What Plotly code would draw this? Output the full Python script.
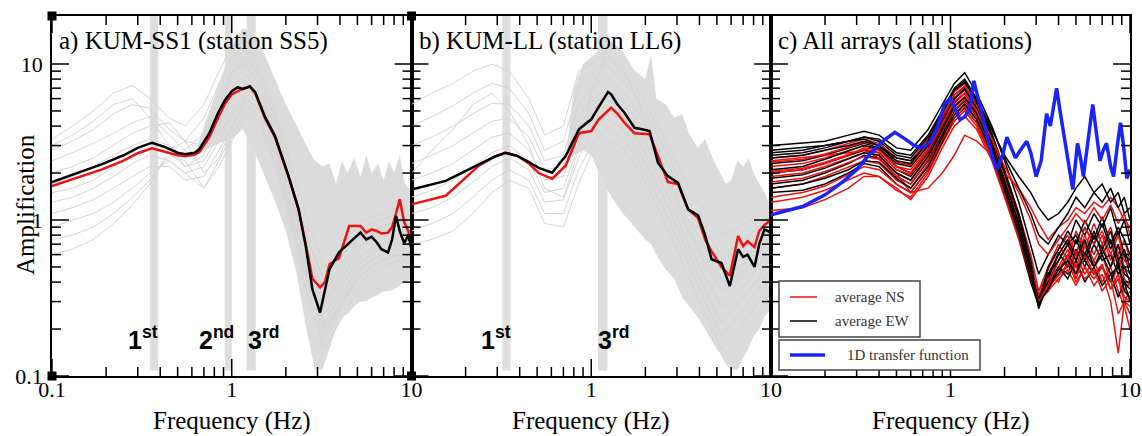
import math
import plotly.graph_objects as go

# ---------------- DATA ----------------
grid_ab = [0.1, 0.13, 0.17, 0.22, 0.28, 0.35, 0.45, 0.55, 0.7, 0.85, 1.0, 1.2, 1.45, 1.8, 2.2, 2.7, 3.3, 4.2, 5.3, 6.7, 8.5, 10]

gray_a = [
    [3.3, 4.0, 5.0, 6.5, 7.3, 6.0, 4.5, 4.0, 5.5, 9.0, 13, 14, 9, 4.5, 2.0, 0.9, 0.5, 0.7, 1.0, 1.1, 1.2, 1.0],
    [2.8, 3.2, 3.8, 4.8, 5.5, 5.2, 3.8, 3.2, 4.5, 7.5, 11, 12, 8, 4.0, 1.6, 0.7, 0.4, 0.6, 0.9, 1.0, 1.1, 0.9],
    [2.4, 2.7, 3.1, 3.6, 4.2, 4.6, 3.5, 2.8, 3.6, 6.0, 9, 10, 7, 3.5, 1.4, 0.6, 0.35, 0.55, 0.8, 0.9, 1.0, 0.8],
    [2.0, 2.2, 2.5, 3.0, 3.6, 4.0, 4.2, 3.2, 3.0, 4.5, 7, 8.5, 6.5, 3.2, 1.3, 0.55, 0.3, 0.5, 0.75, 0.85, 0.9, 0.75],
    [1.7, 1.9, 2.2, 2.6, 3.0, 3.3, 3.0, 2.5, 2.8, 4.0, 6.0, 7.5, 6.0, 3.0, 1.2, 0.5, 0.28, 0.45, 0.7, 0.8, 0.85, 0.7],
    [1.5, 1.6, 1.8, 2.2, 2.6, 2.9, 2.7, 2.2, 2.4, 3.5, 5.0, 6.5, 5.5, 2.8, 1.1, 0.45, 0.25, 0.4, 0.6, 0.7, 0.8, 0.65],
    [1.3, 1.4, 1.6, 1.9, 2.3, 2.6, 2.4, 2.0, 2.2, 3.2, 4.6, 6.0, 5.0, 2.5, 1.0, 0.42, 0.22, 0.35, 0.55, 0.65, 0.7, 0.6],
    [1.1, 1.2, 1.35, 1.6, 1.9, 2.2, 2.2, 1.8, 1.9, 2.8, 4.0, 5.5, 4.5, 2.3, 0.9, 0.38, 0.2, 0.32, 0.5, 0.6, 0.65, 0.55],
    [0.9, 1.0, 1.1, 1.3, 1.6, 2.0, 2.4, 2.0, 1.6, 2.4, 3.5, 5.0, 4.2, 2.1, 0.85, 0.35, 0.18, 0.3, 0.45, 0.55, 0.6, 0.5],
    [0.75, 0.8, 0.9, 1.1, 1.4, 1.8, 2.6, 2.4, 1.6, 2.2, 3.2, 4.6, 4.0, 2.0, 0.8, 0.3, 0.15, 0.25, 0.4, 0.5, 0.55, 0.45],
    [0.6, 0.65, 0.75, 0.95, 1.25, 1.7, 2.8, 3.2, 2.0, 2.5, 4.0, 6.0, 5.0, 2.6, 1.0, 0.4, 0.2, 0.3, 0.5, 0.6, 0.6, 0.5],
    [3.0, 3.5, 4.3, 5.5, 6.0, 4.5, 3.0, 2.2, 2.6, 5.0, 8.5, 11, 8.0, 4.0, 1.6, 0.7, 0.4, 0.6, 0.8, 0.9, 0.9, 0.8],
]

gray_b = [
    [5.5, 6.5, 7.5, 9.0, 10.0, 9.0, 6.0, 3.5, 4.0, 9.0, 10.0, 12.0, 9.0, 7.0, 4.5, 3.0, 1.8, 1.2, 0.8, 0.9, 1.1, 1.3],
    [4.0, 4.6, 5.4, 6.5, 7.5, 7.0, 4.8, 2.8, 3.2, 7.0, 8.5, 10.0, 8.0, 6.0, 4.0, 2.6, 1.5, 0.9, 0.6, 0.7, 0.9, 1.1],
    [3.0, 3.4, 4.0, 4.8, 5.6, 5.5, 4.0, 2.4, 2.6, 5.5, 7.0, 8.5, 7.0, 5.0, 3.4, 2.2, 1.3, 0.8, 0.5, 0.6, 0.8, 1.0],
    [2.3, 2.6, 3.0, 3.6, 4.3, 4.5, 3.4, 2.1, 2.2, 4.5, 6.0, 7.0, 6.0, 4.4, 3.0, 1.9, 1.1, 0.7, 0.42, 0.5, 0.7, 0.9],
    [1.8, 2.0, 2.3, 2.8, 3.4, 3.6, 2.8, 1.8, 1.9, 3.6, 5.0, 6.0, 5.2, 3.8, 2.6, 1.6, 0.95, 0.55, 0.35, 0.42, 0.6, 0.8],
    [1.4, 1.55, 1.8, 2.2, 2.7, 3.0, 2.4, 1.5, 1.6, 3.0, 4.2, 5.0, 4.5, 3.3, 2.2, 1.4, 0.8, 0.45, 0.28, 0.35, 0.5, 0.7],
    [1.1, 1.2, 1.4, 1.75, 2.2, 2.5, 2.1, 1.3, 1.35, 2.5, 3.6, 4.4, 4.0, 2.9, 1.9, 1.2, 0.7, 0.38, 0.22, 0.3, 0.42, 0.6],
    [0.85, 0.95, 1.1, 1.4, 1.8, 2.1, 1.8, 1.1, 1.1, 2.1, 3.0, 3.8, 3.4, 2.5, 1.6, 1.0, 0.6, 0.32, 0.18, 0.25, 0.36, 0.5],
    [0.7, 0.75, 0.85, 1.1, 1.5, 1.8, 1.6, 0.95, 0.9, 1.7, 2.6, 3.2, 3.0, 2.2, 1.4, 0.85, 0.5, 0.27, 0.15, 0.2, 0.3, 0.45],
    [2.0, 2.8, 3.8, 5.5, 6.5, 5.0, 3.0, 1.6, 1.4, 2.8, 6.5, 11.0, 10.0, 6.0, 3.0, 1.8, 1.0, 0.6, 0.4, 0.45, 0.6, 0.8],
]

env_a_f = [0.62, 0.75, 0.9, 1.0, 1.15, 1.3, 1.5, 1.75, 2.0, 2.3, 2.6, 2.9, 3.2, 3.5, 3.8, 4.1, 4.4, 4.8, 5.2, 5.6, 6.0, 6.5, 7.0, 7.5, 8.0, 8.6, 9.2, 10]
env_a_hi = [2.6, 5.0, 9.0, 13.0, 17.0, 16.0, 12.0, 8.0, 5.5, 4.0, 3.0, 2.4, 2.2, 2.3, 1.7, 2.4, 2.0, 2.5, 1.9, 2.6, 2.0, 2.3, 1.8, 2.4, 2.0, 2.6, 1.7, 1.5]
env_a_lo = [2.6, 2.9, 3.2, 3.3, 3.8, 3.0, 2.0, 1.3, 0.85, 0.45, 0.2, 0.11, 0.11, 0.15, 0.2, 0.24, 0.25, 0.28, 0.3, 0.3, 0.32, 0.33, 0.35, 0.35, 0.36, 0.38, 0.4, 0.42]

env_b_f = [0.72, 0.8, 0.9, 1.0, 1.15, 1.3, 1.5, 1.75, 2.0, 2.15, 2.3, 2.6, 2.9, 3.2, 3.5, 3.9, 4.3, 4.8, 5.2, 5.6, 6.0, 6.5, 7.0, 7.5, 8.0, 8.6, 9.2, 10]
env_b_hi = [2.4, 7.0, 10.0, 11.0, 13.0, 14.0, 12.0, 9.0, 8.0, 11.5, 6.0, 5.5, 4.5, 4.8, 3.6, 2.9, 3.3, 2.4, 2.0, 1.7, 1.8, 2.4, 2.2, 2.5, 2.0, 1.7, 1.5, 1.2]
env_b_lo = [2.4, 2.6, 2.8, 2.6, 1.8, 1.4, 1.1, 0.9, 0.75, 0.7, 0.6, 0.48, 0.42, 0.32, 0.28, 0.24, 0.2, 0.16, 0.14, 0.12, 0.11, 0.11, 0.13, 0.15, 0.18, 0.2, 0.24, 0.27]

avg_a_f = [0.1, 0.13, 0.19, 0.25, 0.3, 0.36, 0.42, 0.5, 0.55, 0.62, 0.66, 0.75, 0.84, 0.92, 1.0, 1.08, 1.15, 1.26, 1.35, 1.53, 1.74, 2.07, 2.35, 2.58, 2.81, 3.1, 3.3, 3.5, 3.95, 4.5, 5.2, 5.6, 6.0, 6.4, 6.8, 7.4, 7.8, 8.2, 8.6, 9.1, 9.6, 10]
avg_a_ew = [1.75, 1.95, 2.28, 2.6, 2.9, 3.13, 2.95, 2.7, 2.64, 2.7, 2.84, 3.6, 4.87, 5.9, 6.7, 7.1, 6.9, 7.2, 6.6, 4.6, 3.45, 1.91, 1.18, 0.68, 0.36, 0.255, 0.36, 0.485, 0.62, 0.715, 0.83, 0.75, 0.78, 0.72, 0.65, 0.62, 0.75, 1.06, 0.85, 0.71, 0.8, 0.65]
avg_a_ns = [1.65, 1.82, 2.11, 2.4, 2.68, 2.88, 2.75, 2.6, 2.57, 2.62, 2.73, 3.4, 4.52, 5.6, 6.38, 6.7, 6.95, 7.15, 6.5, 4.5, 3.4, 1.9, 1.18, 0.7, 0.42, 0.37, 0.40, 0.52, 0.57, 0.915, 0.915, 0.83, 0.87, 0.85, 0.82, 0.83, 0.9, 1.1, 1.36, 0.97, 0.85, 0.7]

avg_b_f = [0.1, 0.155, 0.237, 0.29, 0.333, 0.39, 0.45, 0.51, 0.606, 0.72, 0.854, 1.0, 1.1, 1.24, 1.29, 1.4, 1.53, 1.74, 1.95, 2.11, 2.35, 2.67, 3.04, 3.46, 3.93, 4.3, 4.67, 5.3, 5.9, 6.56, 7.0, 7.4, 8.1, 8.6, 9.2, 10]
avg_b_ew = [1.57, 1.78, 2.27, 2.55, 2.7, 2.57, 2.35, 2.16, 2.01, 2.57, 3.81, 4.42, 5.3, 6.62, 6.4, 5.5, 4.87, 3.9, 3.8, 3.72, 2.33, 1.91, 1.73, 1.17, 1.07, 0.8, 0.56, 0.53, 0.377, 0.65, 0.58, 0.6, 0.5, 0.7, 0.87, 0.83]
avg_b_ns = [1.26, 1.43, 2.23, 2.55, 2.7, 2.57, 2.3, 2.0, 1.84, 2.23, 3.6, 3.72, 4.4, 5.0, 5.25, 4.8, 4.2, 3.6, 3.55, 3.55, 2.57, 1.75, 1.7, 1.17, 1.03, 0.75, 0.63, 0.5, 0.44, 0.79, 0.68, 0.73, 0.67, 0.85, 0.93, 1.0]

grid_c = [0.1, 0.15, 0.2, 0.27, 0.33, 0.4, 0.5, 0.6, 0.75, 0.9, 1.05, 1.2, 1.4, 1.7, 2.0, 2.4, 2.8, 3.1, 3.5, 4.0, 4.5, 5.0, 5.6, 6.3, 7.0, 7.8, 8.6, 9.3, 10]
ew_c = [
    [3.0, 3.1, 3.2, 3.5, 3.7, 3.5, 2.9, 2.8, 3.8, 5.5, 7.5, 8.8, 6.5, 4.0, 2.4, 1.3, 0.7, 0.45, 0.6, 0.8, 0.7, 1.0, 0.8, 1.1, 0.9, 1.2, 0.8, 1.0, 0.7],
    [2.7, 2.8, 3.0, 3.2, 3.4, 3.2, 2.6, 2.5, 3.4, 5.0, 7.0, 8.0, 6.0, 3.6, 2.1, 1.1, 0.55, 0.3, 0.45, 0.6, 0.75, 0.6, 0.9, 0.7, 0.95, 0.65, 0.85, 0.6, 0.55],
    [2.3, 2.4, 2.6, 2.9, 3.1, 2.9, 2.3, 2.2, 3.0, 4.5, 6.3, 7.2, 5.5, 3.3, 1.9, 1.0, 0.5, 0.27, 0.4, 0.55, 0.7, 0.8, 0.6, 0.85, 0.6, 0.75, 0.5, 0.6, 0.45],
    [2.0, 2.1, 2.3, 2.6, 2.8, 2.7, 2.1, 1.9, 2.7, 4.0, 5.6, 6.5, 5.0, 3.0, 1.7, 0.9, 0.5, 0.32, 0.35, 0.5, 0.45, 0.65, 0.5, 0.7, 0.55, 0.6, 0.45, 0.5, 0.4],
    [1.7, 1.8, 2.0, 2.3, 2.6, 2.5, 1.9, 1.7, 2.4, 3.6, 5.0, 5.8, 4.6, 2.8, 1.6, 0.85, 0.45, 0.3, 0.4, 0.45, 0.6, 0.5, 0.55, 0.45, 0.5, 0.4, 0.55, 0.35, 0.32],
    [2.8, 2.9, 3.0, 3.2, 3.3, 3.0, 2.5, 2.4, 3.0, 4.2, 6.0, 7.0, 5.5, 3.8, 2.6, 1.9, 1.5, 1.2, 1.0, 1.1, 1.3, 1.6, 1.9, 1.5, 1.7, 1.3, 1.5, 1.1, 1.2],
    [1.5, 1.55, 1.7, 2.0, 2.3, 2.2, 1.7, 1.5, 2.1, 3.2, 4.5, 5.2, 4.2, 2.6, 1.5, 0.8, 0.4, 0.28, 0.38, 0.5, 0.42, 0.55, 0.4, 0.5, 0.38, 0.45, 0.32, 0.4, 0.3],
    [2.5, 2.6, 2.8, 3.0, 3.2, 3.0, 2.4, 2.3, 3.2, 4.8, 6.8, 7.8, 5.8, 3.4, 2.0, 1.05, 0.52, 0.29, 0.5, 0.65, 0.85, 0.7, 1.0, 0.75, 1.05, 0.7, 0.9, 0.75, 0.6],
    [2.1, 2.2, 2.45, 2.75, 3.0, 2.85, 2.2, 2.0, 2.8, 4.2, 6.0, 6.9, 5.2, 3.1, 1.8, 0.95, 0.48, 0.3, 0.42, 0.62, 0.5, 0.75, 0.55, 0.8, 0.65, 0.85, 0.55, 0.65, 0.5],
    [1.85, 1.95, 2.15, 2.45, 2.7, 2.6, 2.0, 1.8, 2.55, 3.8, 5.3, 6.1, 4.8, 2.9, 1.65, 0.88, 0.47, 0.31, 0.45, 0.55, 0.7, 0.55, 0.75, 0.5, 0.65, 0.5, 0.7, 0.45, 0.42],
    [2.6, 2.7, 2.9, 3.2, 3.4, 3.3, 2.7, 2.6, 3.5, 5.0, 6.8, 7.6, 5.9, 3.9, 2.5, 1.6, 1.1, 0.8, 0.7, 0.9, 1.1, 1.4, 1.2, 1.5, 1.3, 1.6, 1.2, 1.4, 1.0],
    [1.6, 1.7, 1.85, 2.1, 2.4, 2.35, 1.85, 1.6, 2.2, 3.4, 4.7, 5.5, 4.4, 2.7, 1.55, 0.82, 0.43, 0.29, 0.36, 0.48, 0.55, 0.45, 0.62, 0.5, 0.6, 0.45, 0.5, 0.4, 0.36],
]
ns_c = [
    [2.5, 2.6, 2.8, 3.1, 3.3, 3.1, 2.5, 2.4, 3.3, 4.8, 6.6, 7.5, 5.7, 3.5, 2.0, 1.1, 0.6, 0.35, 0.5, 0.7, 0.55, 0.85, 0.65, 0.95, 0.7, 0.9, 0.6, 0.75, 0.55],
    [2.2, 2.3, 2.5, 2.8, 3.0, 2.8, 2.2, 2.1, 2.9, 4.3, 6.0, 6.8, 5.2, 3.2, 1.8, 0.95, 0.5, 0.3, 0.42, 0.6, 0.75, 0.55, 0.8, 0.6, 0.8, 0.55, 0.7, 0.5, 0.45],
    [1.9, 2.0, 2.2, 2.5, 2.7, 2.6, 2.0, 1.8, 2.6, 3.9, 5.4, 6.2, 4.8, 2.9, 1.7, 0.9, 0.48, 0.33, 0.4, 0.5, 0.65, 0.45, 0.7, 0.5, 0.6, 0.4, 0.5, 0.35, 0.4],
    [1.6, 1.7, 1.9, 2.2, 2.4, 2.3, 1.8, 1.6, 2.3, 3.5, 4.8, 5.6, 4.4, 2.7, 1.55, 0.85, 0.45, 0.35, 0.45, 0.4, 0.55, 0.4, 0.5, 0.38, 0.45, 0.3, 0.14, 0.3, 0.35],
    [1.3, 1.4, 1.55, 1.8, 2.0, 1.9, 1.55, 1.4, 2.0, 3.1, 4.3, 5.0, 4.0, 2.5, 1.45, 0.8, 0.42, 0.3, 0.36, 0.45, 0.5, 0.6, 0.45, 0.55, 0.4, 0.5, 0.35, 0.28, 0.2],
    [2.4, 2.5, 2.6, 2.7, 2.8, 2.5, 2.0, 1.5, 1.6, 2.0, 2.6, 3.5, 3.2, 2.6, 2.0, 1.6, 1.2, 0.95, 0.75, 0.9, 1.0, 1.2, 1.1, 1.3, 1.2, 1.4, 1.2, 1.0, 0.9],
    [1.15, 1.2, 1.35, 1.6, 1.9, 1.9, 1.6, 1.35, 1.9, 2.9, 4.0, 4.6, 3.8, 2.4, 1.4, 0.75, 0.4, 0.3, 0.35, 0.42, 0.48, 0.38, 0.5, 0.42, 0.5, 0.36, 0.42, 0.3, 0.28],
    [2.35, 2.45, 2.65, 2.95, 3.15, 3.0, 2.35, 2.25, 3.1, 4.6, 6.3, 7.2, 5.4, 3.3, 1.9, 1.0, 0.52, 0.32, 0.48, 0.65, 0.8, 0.6, 0.9, 0.7, 0.85, 0.6, 0.8, 0.55, 0.5],
    [2.05, 2.15, 2.35, 2.65, 2.85, 2.7, 2.1, 1.95, 2.75, 4.1, 5.7, 6.5, 5.0, 3.0, 1.75, 0.92, 0.48, 0.31, 0.38, 0.55, 0.7, 0.5, 0.72, 0.55, 0.7, 0.5, 0.6, 0.42, 0.38],
    [1.75, 1.85, 2.05, 2.35, 2.55, 2.45, 1.9, 1.7, 2.45, 3.7, 5.1, 5.9, 4.6, 2.8, 1.6, 0.87, 0.46, 0.33, 0.42, 0.48, 0.6, 0.42, 0.6, 0.45, 0.52, 0.36, 0.45, 0.32, 0.3],
    [2.0, 2.1, 2.3, 2.6, 2.9, 2.8, 2.2, 2.0, 2.8, 4.2, 5.8, 6.5, 5.0, 3.3, 2.2, 1.5, 1.0, 0.7, 0.6, 0.75, 0.9, 1.1, 0.95, 1.2, 1.0, 1.25, 0.95, 1.1, 0.8],
    [1.4, 1.5, 1.65, 1.95, 2.2, 2.1, 1.7, 1.5, 2.1, 3.3, 4.5, 5.3, 4.2, 2.6, 1.5, 0.8, 0.42, 0.3, 0.38, 0.44, 0.52, 0.5, 0.42, 0.48, 0.35, 0.42, 0.25, 0.3, 0.25],
]

tf_f = [0.1, 0.15, 0.2, 0.25, 0.3, 0.35, 0.42, 0.49, 0.56, 0.63, 0.7, 0.78, 0.85, 0.93, 1.0, 1.07, 1.13, 1.2, 1.28, 1.35, 1.45, 1.59, 1.7, 1.81, 1.95, 2.06, 2.18, 2.3, 2.45, 2.66, 2.8, 3.0, 3.2, 3.43, 3.6, 3.9, 4.1, 4.3, 4.55, 4.8, 5.1, 5.3, 5.5, 5.8, 6.2, 6.5, 6.8, 7.1, 7.4, 7.8, 8.1, 8.5, 8.85, 9.2, 9.6, 10]
tf_amp = [1.08, 1.22, 1.45, 1.75, 2.1, 2.6, 3.2, 3.65, 3.3, 3.0, 2.9, 3.2, 4.0, 5.6, 6.0, 5.0, 4.4, 4.6, 5.1, 7.8, 5.5, 3.6, 2.6, 2.1, 2.6, 3.4, 2.9, 2.5, 2.8, 3.2, 2.7, 1.9, 2.4, 4.8, 4.0, 7.0, 4.8, 3.4, 2.4, 1.57, 3.1, 2.5, 1.9, 3.0, 5.5, 3.6, 2.4, 2.8, 3.1, 2.2, 1.9, 3.0, 4.2, 3.0, 1.85, 2.1]

bands_a = [(0.35, 0.39), (0.915, 1.0), (1.21, 1.36)]
bands_b = [(0.32, 0.355), (1.09, 1.23)]
mode_labels_a = [(0.321, "1", "st"), (0.82, "2", "nd"), (1.496, "3", "rd")]
mode_labels_b = [(0.296, "1", "st"), (1.33, "3", "rd")]

titles = ["a) KUM-SS1 (station SS5)", "b) KUM-LL (station LL6)", "c) All arrays (all stations)"]
major_vals = [0.1, 1, 10]
minor_vals = [0.2, 0.3, 0.4, 0.5, 0.6, 0.7, 0.8, 0.9, 2, 3, 4, 5, 6, 7, 8, 9]

# ---------------- FIGURE ----------------
W, H = 1142, 436
px_left = [52, 411.5, 771]
px_right = [411.5, 771, 1130]
py_top, py_bot = 16, 376
ytop = 10 ** (1 + 48 / 156)

GRAY = "#d4d4d4"
RED = "rgb(236,18,18)"
BLUE = "rgb(25,35,250)"
SERIF = "Liberation Serif"

fig = go.Figure()

def axn(i):
    return ("x" if i == 0 else f"x{i+1}"), ("y" if i == 0 else f"y{i+1}")

def add(i, x, y, color, width, **kw):
    xa, ya = axn(i)
    fig.add_trace(go.Scatter(x=x, y=y, mode="lines", line=dict(color=color, width=width),
                             xaxis=xa, yaxis=ya, showlegend=False, hoverinfo="skip", **kw))

for i, (ef, elo, ehi, grays, af, ew, ns) in enumerate([
        (env_a_f, env_a_lo, env_a_hi, gray_a, avg_a_f, avg_a_ew, avg_a_ns),
        (env_b_f, env_b_lo, env_b_hi, gray_b, avg_b_f, avg_b_ew, avg_b_ns)]):
    add(i, ef, elo, "rgba(0,0,0,0)", 0)
    add(i, ef, ehi, "rgba(0,0,0,0)", 0, fill="tonexty", fillcolor="#dbdbdb")
    for g in grays:
        add(i, grid_ab, g, GRAY, 1)
    add(i, af, ns, RED, 2.5)
    add(i, af, ew, "black", 2.5)

for k in range(len(ew_c)):
    add(2, grid_c, ns_c[k], RED, 1.5)
    add(2, grid_c, ew_c[k], "black", 1.5)
add(2, tf_f, tf_amp, BLUE, 3.5)

fig.add_trace(go.Scatter(x=[0.1, 10, 0.1, 10], y=[0.1, 0.1, ytop, ytop], mode="markers",
                         marker=dict(symbol="square", size=9, color="black"), cliponaxis=False,
                         xaxis="x", yaxis="y", showlegend=False, hoverinfo="skip"))

layout = dict(width=W, height=H, margin=dict(l=0, r=0, t=0, b=0, pad=0, autoexpand=False),
              paper_bgcolor="white", plot_bgcolor="white", showlegend=False)

ydom = [1 - py_bot / H, 1 - py_top / H]
for i in range(3):
    xa_key = "xaxis" if i == 0 else f"xaxis{i+1}"
    ya_key = "yaxis" if i == 0 else f"yaxis{i+1}"
    xa, ya = axn(i)
    tv = major_vals if i == 0 else [1, 10]
    layout[xa_key] = dict(
        type="log", range=[-1, 1], domain=[px_left[i] / W, px_right[i] / W], anchor=ya,
        automargin=False, showline=True, linecolor="black", linewidth=1.5, mirror=True,
        ticks="", tickmode="array", tickvals=tv, ticktext=[("0.1" if v == 0.1 else str(v)) for v in tv],
        ticklabelstandoff=-7,
        showgrid=False, zeroline=False,
        tickfont=dict(family=SERIF, size=22, color="black"))
    layout[ya_key] = dict(
        type="log", range=[-1, 1 + 48 / 156], domain=ydom, anchor=xa,
        automargin=False, showline=True, linecolor="black", linewidth=1.5, mirror=True,
        ticks="", tickmode="array", tickvals=major_vals, ticktext=["0.1", "1", "10"],
        ticklabelstandoff=3,
        showticklabels=(i == 0), showgrid=False, zeroline=False,
        tickfont=dict(family=SERIF, size=22, color="black"))

shapes = []
for i, bands in enumerate([bands_a, bands_b]):
    xa, ya = axn(i)
    for (b0, b1) in bands:
        shapes.append(dict(type="rect", xref=xa, yref=f"{ya} domain", x0=b0, x1=b1, y0=0.015, y1=1,
                           fillcolor="#dedede", line=dict(width=0), layer="below"))

TICK = dict(color="black", width=1.5)
yb, yt = 1 - py_bot / H, 1 - py_top / H
for i in range(3):
    xa, ya = axn(i)
    xl, xr = px_left[i] / W, px_right[i] / W
    for vals, ln in [(major_vals, 17), (minor_vals, 9)]:
        for v in vals:
            shapes.append(dict(type="line", xref=xa, yref="paper", x0=v, x1=v, y0=yb, y1=yb + ln / H, line=TICK))
            shapes.append(dict(type="line", xref=xa, yref="paper", x0=v, x1=v, y0=yt, y1=yt - ln / H, line=TICK))
            shapes.append(dict(type="line", yref=ya, xref="paper", y0=v, y1=v, x0=xl, x1=xl + ln / W, line=TICK))
            shapes.append(dict(type="line", yref=ya, xref="paper", y0=v, y1=v, x0=xr, x1=xr - ln / W, line=TICK))

annotations = []
for i, t in enumerate(titles):
    annotations.append(dict(text=t, x=(px_left[i] + 5) / W, y=1 - 41 / H, xref="paper", yref="paper",
                            xanchor="left", yanchor="middle", showarrow=False,
                            font=dict(family=SERIF, size=25, color="black")))
    annotations.append(dict(text="Frequency (Hz)", x=(px_left[i] + px_right[i]) / 2 / W, y=1 - 421 / H,
                            xref="paper", yref="paper", xanchor="center", yanchor="middle",
                            showarrow=False, font=dict(family=SERIF, size=25, color="black")))
annotations.append(dict(text="Amplification", x=25 / W, y=1 - 205 / H, xref="paper", yref="paper",
                        textangle=-90, xanchor="center", yanchor="middle", showarrow=False,
                        font=dict(family=SERIF, size=25, color="black")))
for i, labels in enumerate([mode_labels_a, mode_labels_b]):
    xa, _ = axn(i)
    for (f, n, s) in labels:
        annotations.append(dict(text=f"<b>{n}<sup>{s}</sup></b>", x=math.log10(f), xref=xa, y=1 - 338 / H,
                                yref="paper", xanchor="center", yanchor="middle", showarrow=False,
                                font=dict(family="Liberation Sans", size=25, color="black")))

shapes.append(dict(type="rect", xref="paper", yref="paper", x0=779 / W, x1=920 / W,
                   y0=1 - 337 / H, y1=1 - 281 / H, line=dict(color="#444", width=1.5), fillcolor="white"))
shapes.append(dict(type="rect", xref="paper", yref="paper", x0=779 / W, x1=980 / W,
                   y0=1 - 370 / H, y1=1 - 340 / H, line=dict(color="#444", width=1.5), fillcolor="white"))
for (yy, col, w, x1) in [(297, RED, 1.5, 817), (321, "black", 1.5, 817), (355, BLUE, 3.5, 825)]:
    shapes.append(dict(type="line", xref="paper", yref="paper", x0=790 / W, x1=x1 / W,
                       y0=1 - yy / H, y1=1 - yy / H, line=dict(color=col, width=w)))
for (txt, xx, yy) in [("average NS", 833, 297), ("average EW", 833, 321), ("1D transfer function", 845, 355)]:
    annotations.append(dict(text=txt, x=xx / W, y=1 - yy / H, xref="paper", yref="paper",
                            xanchor="left", yanchor="middle", showarrow=False,
                            font=dict(family=SERIF, size=15, color="#333")))

layout["shapes"] = shapes
layout["annotations"] = annotations
fig.update_layout(**layout)
fig.write_html("out.html")
